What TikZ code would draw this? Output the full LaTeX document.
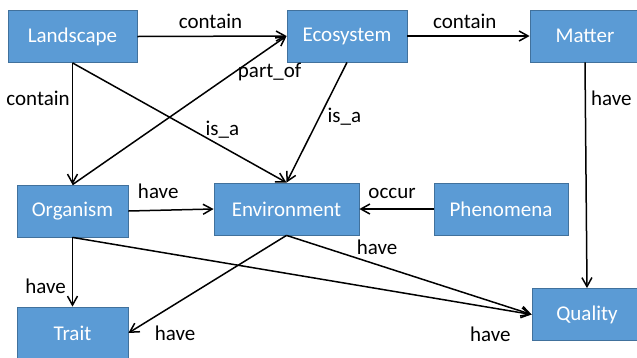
\documentclass[tikz,border=0pt]{standalone}
\usepackage{fontspec}
\setmainfont{Carlito}
\usepackage{tikz}
\usetikzlibrary{arrows.meta}
\definecolor{boxfill}{HTML}{5B9BD5}
\definecolor{boxline}{HTML}{41719C}
\tikzset{
  concept/.style={draw=boxline, line width=0.8pt, fill=boxfill,
    text=white, minimum height=52pt, inner sep=0pt,
    font=\fontsize{21}{25}\selectfont},
  rel/.style={-{Straight Barb[length=9pt,width=10pt]}, line width=1.5pt},
  lbl/.style={font=\fontsize{21}{25}\selectfont, inner sep=2pt}
}

\begin{document}
\begin{tikzpicture}[x=1pt,y=-1pt]
  \useasboundingbox (0,0) rectangle (637,357);
  \clip (0,0) rectangle (637,357);
  % concepts
  \node[concept, minimum width=129pt] (land) at (72.5,36.5) {Landscape};
  \node[concept, minimum width=120pt] (eco) at (347,36) {Ecosystem};
  \node[concept, minimum width=110pt] (matter) at (585,36) {Matter};
  \node[concept, minimum width=111pt] (org) at (72.5,211) {Organism};
  \node[concept, minimum width=145pt] (env) at (286.5,209) {Environment};
  \node[concept, minimum width=134pt] (phen) at (501,209) {Phenomena};
  \node[concept, minimum width=111pt] (trait) at (72.5,333) {Trait};
  \node[concept, minimum width=110pt] (qual) at (587,314.5) {Quality};
  % relations
  \draw[rel] (land.east) -- node[lbl, pos=.49, above=5pt] {contain} (eco.west);
  \draw[rel] (eco.east) -- node[lbl, pos=.47, above=5pt] {contain} (matter.west);
  \draw[rel] (land.south) -- node[lbl, pos=.29, left] {contain} (org.north);
  \draw[rel] (land.south) -- node[lbl, pos=.7, above=6pt] {is\_a} (env.north);
  \draw[rel] (org.north) -- node[lbl, pos=.76, right] {part\_of} (eco.west);
  \draw[rel] (eco.south) -- node[lbl, pos=.45, right=5pt] {is\_a} (env.north);
  \draw[rel] (org.east) -- node[lbl, pos=.35, above=9pt] {have} (env.west);
  \draw[rel] (phen.west) -- node[lbl, pos=.56, above=8pt] {occur} (env.east);
  \draw[rel] (matter.south) -- node[lbl, pos=.16, right=3pt] {have} (qual.north);
  \draw[rel] (org.south) -- node[lbl, pos=.7, left=4pt] {have} (trait.north);
  \draw[rel] (env.south) -- node[lbl, pos=.85, below right, yshift=-5pt] {have} (trait.east);
  \draw[rel] (env.south) -- node[lbl, pos=.37, above=7pt] {have} (qual.west);
  \draw[rel] (org.south) -- node[lbl, pos=.91, below=17pt] {have} (qual.west);
\end{tikzpicture}
\end{document}
